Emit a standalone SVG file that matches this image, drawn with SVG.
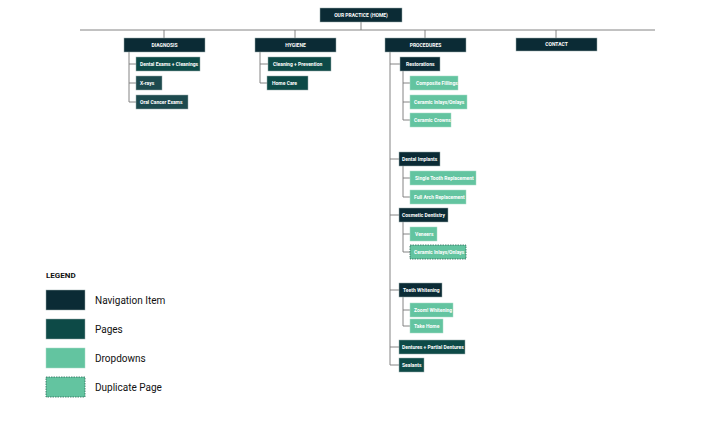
<svg xmlns="http://www.w3.org/2000/svg" width="722" height="427" viewBox="0 0 722 427">
<style>
.n{fill:#0b2b35;stroke:#9aa;stroke-width:0.5}
.p{fill:#0d4a47;stroke:#9aa;stroke-width:0.5}
.d{fill:#63c4a0;stroke:#a8dcc6;stroke-width:0.5}
.dup{fill:#63c4a0;stroke:#2a6a55;stroke-width:0.8;stroke-dasharray:1.5 1}
.t{font-family:Roboto,'Liberation Sans',sans-serif;font-size:5px;font-weight:bold;fill:#fff}
.c{text-anchor:middle}
.l{font-family:Roboto,'Liberation Sans',sans-serif;font-size:10px;fill:#111}
#conn path{fill:none;stroke:#777;stroke-width:0.9}
</style>
<rect width="722" height="427" fill="#fff"/>
<g id="conn">
<path d="M361 22V30M80 30H655M164 30V38M295 30V38M425 30V38M556 30V38"/>
<path d="M129 52V102H136M129 64H136M129 83H136"/>
<path d="M260 52V83H267M260 64H268"/>
<path d="M390 52V365H399M390 64H400M390 159H399M390 215H399M390 290H399M390 347H399"/>
<path d="M403 71V120H410M403 83H410M403 102H410"/>
<path d="M403 166V197H410M403 178H410"/>
<path d="M403 222V252H410M403 234H410"/>
<path d="M403 297V326H410M403 310H410"/>
</g>
<g id="home"><rect class="n" x="320" y="8" width="82" height="14"/><text class="t c" x="361" y="16.8">OUR PRACTICE (HOME)</text></g>
<g id="diagnosis"><rect class="n" x="124" y="38" width="81" height="14"/><text class="t c" x="164.5" y="46.8">DIAGNOSIS</text></g>
<g id="hygiene"><rect class="n" x="255" y="38" width="81" height="14"/><text class="t c" x="295.5" y="46.8">HYGIENE</text></g>
<g id="procedures"><rect class="n" x="385" y="38" width="81" height="14"/><text class="t c" x="425.5" y="46.8">PROCEDURES</text></g>
<g id="contact"><rect class="n" x="516" y="38" width="81" height="13"/><text class="t c" x="556.5" y="46.3">CONTACT</text></g>
<g id="dental-exams"><rect class="p" x="136" y="57" width="64" height="14"/><text class="t" x="140" y="65.8">Dental Exams + Cleanings</text></g>
<g id="xrays"><rect class="p" x="136" y="76" width="26" height="14" style="fill:#1d4a4e"/><text class="t" x="140" y="84.8">X-rays</text></g>
<g id="oral"><rect class="p" x="136" y="95" width="52" height="14" style="fill:#1d4a4e"/><text class="t" x="140" y="103.8">Oral Cancer Exams</text></g>
<g id="cleaning"><rect class="p" x="268" y="57" width="63" height="14"/><text class="t" x="273" y="65.8">Cleaning + Prevention</text></g>
<g id="homecare"><rect class="p" x="267" y="76" width="41" height="14"/><text class="t" x="272" y="84.8">Home Care</text></g>
<g id="restorations"><rect class="n" x="400" y="57" width="40" height="14"/><text class="t" x="406" y="65.8">Restorations</text></g>
<g id="composite"><rect class="d" x="410" y="76" width="48" height="14"/><text class="t" x="416" y="84.8">Composite Fillings</text></g>
<g id="inlays"><rect class="d" x="410" y="95" width="57" height="14"/><text class="t" x="414" y="103.8">Ceramic Inlays/Onlays</text></g>
<g id="crowns"><rect class="d" x="410" y="113" width="41" height="14"/><text class="t" x="414" y="121.8">Ceramic Crowns</text></g>
<g id="implants"><rect class="n" x="399" y="152" width="41" height="14"/><text class="t" x="402" y="160.8">Dental Implants</text></g>
<g id="single"><rect class="d" x="410" y="171" width="66" height="14"/><text class="t" x="415" y="179.8">Single Tooth Replacement</text></g>
<g id="fullarch"><rect class="d" x="410" y="190" width="56" height="14"/><text class="t" x="414" y="198.8">Full Arch Replacement</text></g>
<g id="cosmetic"><rect class="n" x="399" y="208" width="49" height="14"/><text class="t" x="402" y="216.8">Cosmetic Dentistry</text></g>
<g id="veneers"><rect class="d" x="410" y="227" width="27" height="14"/><text class="t" x="415" y="235.8">Veneers</text></g>
<g id="inlays-dup"><rect class="dup" x="410" y="245" width="56" height="14"/><text class="t" x="414" y="253.8">Ceramic Inlays/Onlays</text></g>
<g id="whitening"><rect class="n" x="399" y="283" width="43" height="14"/><text class="t" x="403" y="291.8">Teeth Whitening</text></g>
<g id="zoom"><rect class="d" x="410" y="303" width="43" height="14"/><text class="t" x="414" y="311.8">Zoom! Whitening</text></g>
<g id="takehome"><rect class="d" x="410" y="319" width="33" height="14"/><text class="t" x="414" y="327.8">Take Home</text></g>
<g id="dentures"><rect class="p" x="399" y="340" width="66" height="14"/><text class="t" x="402" y="348.8">Dentures + Partial Dentures</text></g>
<g id="sealants"><rect class="p" x="399" y="358" width="25" height="14"/><text class="t" x="402" y="366.8">Sealants</text></g>
<g id="legend">
<text x="46" y="278" style="font-family:Roboto,'Liberation Sans',sans-serif;font-size:8px;font-weight:bold;fill:#111">LEGEND</text>
<rect class="n" x="46" y="290" width="39" height="20"/><text class="l" x="95" y="303.5">Navigation Item</text>
<rect class="p" x="46" y="319" width="39" height="20"/><text class="l" x="95" y="332.5">Pages</text>
<rect class="d" x="46" y="348" width="39" height="20"/><text class="l" x="95" y="361.5">Dropdowns</text>
<rect class="dup" x="46" y="377" width="39" height="20"/><text class="l" x="95" y="390.5">Duplicate Page</text>
</g>
</svg>
